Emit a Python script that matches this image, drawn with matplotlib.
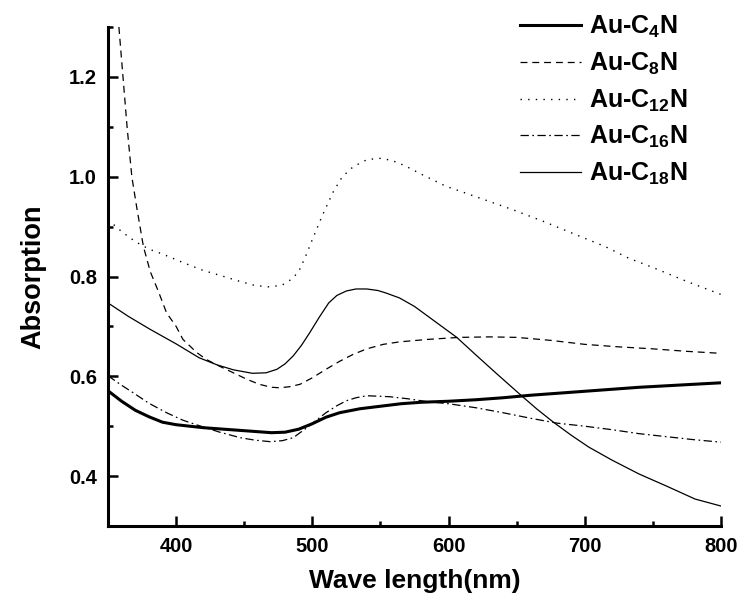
import numpy as np
import matplotlib
matplotlib.use('Agg')
import matplotlib.pyplot as plt

plt.rcParams['font.family'] = ['Liberation Sans', 'DejaVu Sans']
plt.rcParams['font.weight'] = 'bold'
plt.rcParams['mathtext.fontset'] = 'custom'
plt.rcParams['mathtext.rm'] = 'Liberation Sans:bold'
plt.rcParams['mathtext.it'] = 'Liberation Sans:bold'
plt.rcParams['mathtext.default'] = 'rm'
plt.rcParams['lines.scale_dashes'] = False

# values
x_c4 = [350, 360, 370, 380, 390, 400, 420, 440, 460, 470, 480, 490, 500, 510, 520,
        535, 550, 565, 580, 600, 620, 640, 660, 680, 700, 720, 740, 760, 780, 800]
y_c4 = [0.571, 0.550, 0.532, 0.519, 0.508, 0.503, 0.497, 0.493, 0.489, 0.487, 0.488,
        0.494, 0.505, 0.518, 0.527, 0.535, 0.540, 0.545, 0.548, 0.550, 0.553, 0.557,
        0.562, 0.566, 0.570, 0.574, 0.578, 0.581, 0.584, 0.587]

x_c8 = [358, 361, 364, 367.5, 371, 376, 381, 387, 393, 400, 405, 415, 422, 432, 442,
        452, 461, 470, 476, 483, 491, 500, 510, 520, 530, 540, 552, 564, 585, 608, 630,
        650, 675, 700, 725, 750, 775, 800]
y_c8 = [1.30, 1.20, 1.10, 1.00, 0.94, 0.86, 0.81, 0.77, 0.727, 0.70, 0.674, 0.648,
        0.634, 0.620, 0.607, 0.594, 0.584, 0.578, 0.577, 0.579, 0.584, 0.597, 0.614,
        0.630, 0.644, 0.655, 0.664, 0.669, 0.674, 0.678, 0.679, 0.678, 0.672, 0.664,
        0.659, 0.655, 0.650, 0.646]

x_c12 = [350, 360, 370, 380, 390, 405, 420, 435, 447, 458, 469, 478, 485, 490, 495,
         500, 507, 515, 522, 530, 540, 549, 558, 568, 580, 598, 620, 647, 670, 696,
         715, 732, 750, 775, 800]
y_c12 = [0.914, 0.890, 0.870, 0.855, 0.845, 0.828, 0.812, 0.800, 0.790, 0.782, 0.779,
         0.783, 0.795, 0.810, 0.840, 0.874, 0.920, 0.968, 1.000, 1.020, 1.034, 1.037,
         1.033, 1.022, 1.005, 0.981, 0.960, 0.934, 0.910, 0.881, 0.860, 0.837, 0.818,
         0.790, 0.764]

x_c16 = [350, 360, 368.5, 380, 393, 405, 417, 432, 447, 458, 469, 478, 486, 496, 503,
         510, 518, 525, 532, 540, 550, 557, 570, 585, 600, 620, 640, 660, 680, 700,
         720, 740, 760, 780, 800]
y_c16 = [0.601, 0.582, 0.567, 0.546, 0.527, 0.512, 0.501, 0.488, 0.477, 0.472, 0.469,
         0.471, 0.477, 0.497, 0.512, 0.527, 0.541, 0.551, 0.557, 0.561, 0.560, 0.559,
         0.555, 0.549, 0.545, 0.537, 0.527, 0.516, 0.506, 0.500, 0.493, 0.485, 0.479,
         0.473, 0.468]

x_c18 = [350, 365, 381, 400, 417, 430, 442, 456, 466, 474, 480, 486, 492, 498, 505,
         512, 518, 525, 532, 540, 548, 554, 564, 575, 590, 606, 620, 635, 654, 665,
         677, 690, 703, 720, 740, 760, 781, 800]
y_c18 = [0.747, 0.720, 0.694, 0.665, 0.637, 0.623, 0.613, 0.606, 0.607, 0.614, 0.625,
         0.641, 0.662, 0.687, 0.718, 0.747, 0.762, 0.771, 0.775, 0.775, 0.772, 0.767,
         0.757, 0.740, 0.710, 0.678, 0.643, 0.606, 0.560, 0.534, 0.508, 0.482, 0.458,
         0.432, 0.404, 0.380, 0.354, 0.340]

labels = ['Au-C$_4$N', 'Au-C$_8$N', 'Au-C$_{12}$N', 'Au-C$_{16}$N', 'Au-C$_{18}$N']

fig = plt.figure(figsize=(7.37, 5.97), dpi=100)
ax = fig.add_axes([108/737, 71/597, 613/737, 499/597])

ax.plot(x_c4, y_c4, color='black', lw=2.2, label=labels[0])
ax.plot(x_c8, y_c8, color='black', lw=0.9, linestyle=(0, (5, 3.5)), label=labels[1])
ax.plot(x_c12, y_c12, color='black', lw=1.0, linestyle=(0, (1, 4.5)), label=labels[2])
ax.plot(x_c16, y_c16, color='black', lw=0.9, linestyle=(0, (6, 2.5, 1.2, 2.5)), label=labels[3])
ax.plot(x_c18, y_c18, color='black', lw=0.9, label=labels[4])

ax.set_xlim(350, 800)
ax.set_ylim(0.3, 1.3)
ax.set_xticks([400, 500, 600, 700, 800])
ax.set_xticks([450, 550, 650, 750], minor=True)
ax.set_yticks([0.4, 0.6, 0.8, 1.0, 1.2])
ax.set_yticklabels(['0.4', '0.6', '0.8', '1.0', '1.2'])
ax.set_yticks([0.5, 0.7, 0.9, 1.1, 1.3], minor=True)

for s in ['top', 'right']:
    ax.spines[s].set_visible(False)
for s in ['left', 'bottom']:
    ax.spines[s].set_linewidth(2.2)

ax.tick_params(which='major', direction='in', length=7, width=1.8, labelsize=14.5, pad=8)
ax.tick_params(which='minor', direction='in', length=3.5, width=1.8)

ax.set_xlabel('Wave length(nm)', fontsize=19, fontweight='bold', labelpad=9)
ax.set_ylabel('Absorption', fontsize=19.5, fontweight='bold', labelpad=16)

leg = ax.legend(loc='upper left', bbox_to_anchor=(520/737, 1 - 14/597),
                bbox_transform=fig.transFigure, frameon=False, fontsize=18,
                handlelength=2.45, handletextpad=0.3, labelspacing=0.42,
                borderpad=0, borderaxespad=0)
for t in leg.get_texts():
    t.set_fontweight('bold')

fig.savefig('out.png', dpi=100)
